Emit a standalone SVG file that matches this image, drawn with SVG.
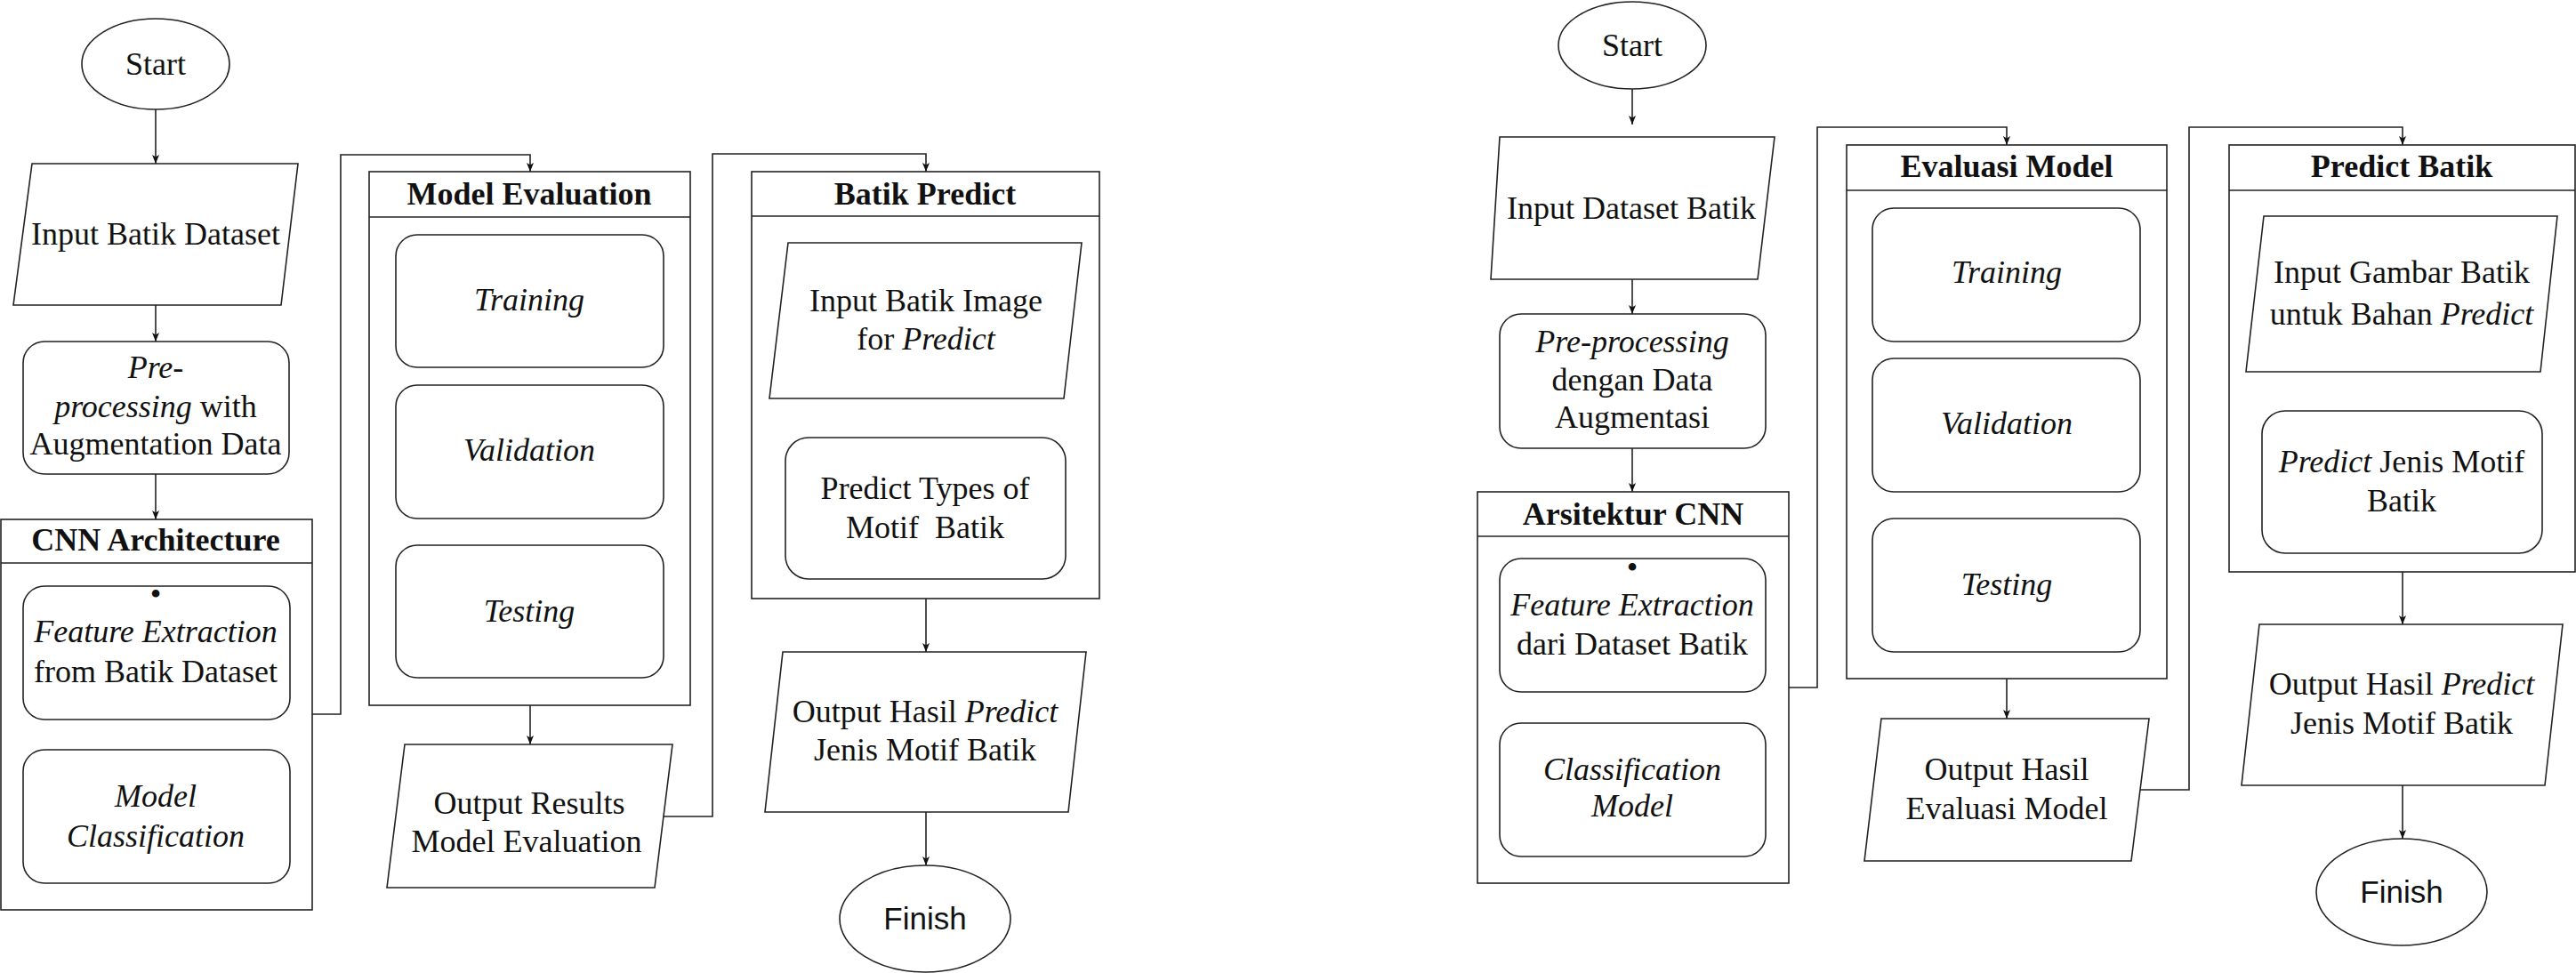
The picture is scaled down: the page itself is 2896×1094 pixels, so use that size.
<svg xmlns="http://www.w3.org/2000/svg" width="2896" height="1094" viewBox="0 0 2896 1094">
<style>
.s{fill:#fff;stroke:#222;stroke-width:1.6}
.c{fill:none;stroke:#222;stroke-width:1.6}
.t{font-family:"Liberation Serif","Times New Roman",serif;font-size:36px;fill:#111;text-anchor:middle}
.b{font-weight:bold}
.i{font-style:italic}
.f{font-family:"Liberation Sans",Arial,sans-serif;font-size:35px;fill:#111;text-anchor:middle}
</style>
<defs>
<marker id="ah" markerUnits="userSpaceOnUse" markerWidth="12" markerHeight="12" refX="10" refY="5" orient="auto">
<path d="M0,1 L10,5 L0,9 L2.5,5 Z" fill="#111"/>
</marker>
</defs>
<rect width="2896" height="1094" fill="#fff"/>

<g id="connectors">
<path class="c" marker-end="url(#ah)" d="M175,123 V184"/>
<path class="c" marker-end="url(#ah)" d="M175,343 V384"/>
<path class="c" marker-end="url(#ah)" d="M175,533 V584"/>
<path class="c" marker-end="url(#ah)" d="M175,809 V843"/>
<path class="c" marker-end="url(#ah)" d="M351,803 H383 V174 H596 V193"/>
<path class="c" marker-end="url(#ah)" d="M596,413 V433"/>
<path class="c" marker-end="url(#ah)" d="M596,583 V613"/>
<path class="c" marker-end="url(#ah)" d="M596,793 V837"/>
<path class="c" marker-end="url(#ah)" d="M746,918 H801 V173 H1041 V193"/>
<path class="c" marker-end="url(#ah)" d="M1041,448 V492"/>
<path class="c" marker-end="url(#ah)" d="M1041,673 V733"/>
<path class="c" marker-end="url(#ah)" d="M1041,913 V973"/>

<path class="c" marker-end="url(#ah)" d="M1835,100 V140"/>
<path class="c" marker-end="url(#ah)" d="M1835,314 V353"/>
<path class="c" marker-end="url(#ah)" d="M1835,504 V553"/>
<path class="c" marker-end="url(#ah)" d="M1835,778 V813"/>
<path class="c" marker-end="url(#ah)" d="M2011,773 H2043 V143 H2256 V163"/>
<path class="c" marker-end="url(#ah)" d="M2256,384 V403"/>
<path class="c" marker-end="url(#ah)" d="M2256,553 V583"/>
<path class="c" marker-end="url(#ah)" d="M2256,763 V808"/>
<path class="c" marker-end="url(#ah)" d="M2406,888 H2461 V143 H2701 V163"/>
<path class="c" marker-end="url(#ah)" d="M2701,418 V462"/>
<path class="c" marker-end="url(#ah)" d="M2701,643 V702"/>
<path class="c" marker-end="url(#ah)" d="M2701,883 V943"/>
</g>

<!-- LEFT (English) -->
<g id="start-en">
<ellipse class="s" cx="175" cy="72" rx="83" ry="51"/>
<text class="t" x="175" y="84" font-size="35">Start</text>
</g>
<g id="input-dataset-en">
<polygon class="s" points="36,184 335,184 316,343 15,343"/>
<text class="t" x="175" y="275">Input Batik Dataset</text>
</g>
<g id="preprocessing-en">
<rect class="s" x="26" y="384" width="299" height="149" rx="24"/>
<text class="t" x="175" y="425"><tspan class="i">Pre</tspan>-</text>
<text class="t" x="175" y="469"><tspan class="i">processing</tspan> with</text>
<text class="t" x="175" y="511">Augmentation Data</text>
</g>
<g id="cnn-en">
<rect class="s" x="1" y="584" width="350" height="439"/>
<line class="c" x1="1" y1="633" x2="351" y2="633"/>
<text class="t b" x="175" y="619">CNN Architecture</text>
</g>
<g id="feature-en">
<rect class="s" x="26" y="659" width="300" height="150" rx="24"/>
<text class="t" x="175" y="680" font-size="24">•</text>
<text class="t i" x="175" y="722">Feature Extraction</text>
<text class="t" x="175" y="767">from Batik Dataset</text>
</g>
<g id="classification-en">
<rect class="s" x="26" y="843" width="300" height="150" rx="24"/>
<text class="t i" x="175" y="907">Model</text>
<text class="t i" x="175" y="952">Classification</text>
</g>
<g id="evaluation-en">
<rect class="s" x="415" y="193" width="361" height="600"/>
<line class="c" x1="415" y1="244" x2="776" y2="244"/>
<text class="t b" x="595" y="230">Model Evaluation</text>
</g>
<g id="training-en">
<rect class="s" x="445" y="264" width="301" height="149" rx="24"/>
<text class="t i" x="595" y="349">Training</text>
</g>
<g id="validation-en">
<rect class="s" x="445" y="433" width="301" height="150" rx="24"/>
<text class="t i" x="595" y="518">Validation</text>
</g>
<g id="testing-en">
<rect class="s" x="445" y="613" width="301" height="149" rx="24"/>
<text class="t i" x="595" y="699">Testing</text>
</g>
<g id="output-eval-en">
<polygon class="s" points="455,837 756,837 736,998 435,998"/>
<text class="t" x="595" y="915">Output Results</text>
<text class="t" x="592" y="958">Model Evaluation</text>
</g>
<g id="predict-en">
<rect class="s" x="845" y="193" width="391" height="480"/>
<line class="c" x1="845" y1="243" x2="1236" y2="243"/>
<text class="t b" x="1040" y="230">Batik Predict</text>
</g>
<g id="input-image-en">
<polygon class="s" points="886,273 1216,273 1196,448 865,448"/>
<text class="t" x="1041" y="350">Input Batik Image</text>
<text class="t" x="1041" y="393">for <tspan class="i">Predict</tspan></text>
</g>
<g id="predict-types-en">
<rect class="s" x="883" y="492" width="315" height="159" rx="26"/>
<text class="t" x="1040" y="561">Predict Types of</text>
<text class="t" x="1040" y="605" xml:space="preserve">Motif  Batik</text>
</g>
<g id="output-predict-en">
<polygon class="s" points="880,733 1221,733 1201,913 860,913"/>
<text class="t" x="1040" y="812">Output Hasil <tspan class="i">Predict</tspan></text>
<text class="t" x="1040" y="855">Jenis Motif Batik</text>
</g>
<g id="finish-en">
<ellipse class="s" cx="1040" cy="1033" rx="96" ry="60"/>
<text class="f" x="1040" y="1045">Finish</text>
</g>

<!-- RIGHT (Indonesian) -->
<g id="start-id">
<ellipse class="s" cx="1835" cy="51" rx="83" ry="49"/>
<text class="t" x="1835" y="63" font-size="35">Start</text>
</g>
<g id="input-dataset-id">
<polygon class="s" points="1686,154 1995,154 1976,314 1676,314"/>
<text class="t" x="1834" y="246">Input Dataset Batik</text>
</g>
<g id="preprocessing-id">
<rect class="s" x="1686" y="353" width="299" height="151" rx="24"/>
<text class="t i" x="1835" y="396">Pre-processing</text>
<text class="t" x="1835" y="439">dengan Data</text>
<text class="t" x="1835" y="481">Augmentasi</text>
</g>
<g id="cnn-id">
<rect class="s" x="1661" y="553" width="350" height="440"/>
<line class="c" x1="1661" y1="603" x2="2011" y2="603"/>
<text class="t b" x="1836" y="590">Arsitektur CNN</text>
</g>
<g id="feature-id">
<rect class="s" x="1686" y="628" width="299" height="150" rx="24"/>
<text class="t" x="1835" y="650" font-size="24">•</text>
<text class="t i" x="1835" y="692">Feature Extraction</text>
<text class="t" x="1835" y="736">dari Dataset Batik</text>
</g>
<g id="classification-id">
<rect class="s" x="1686" y="813" width="299" height="150" rx="24"/>
<text class="t i" x="1835" y="877">Classification</text>
<text class="t i" x="1835" y="918">Model</text>
</g>
<g id="evaluation-id">
<rect class="s" x="2076" y="163" width="360" height="600"/>
<line class="c" x1="2076" y1="214" x2="2436" y2="214"/>
<text class="t b" x="2256" y="199">Evaluasi Model</text>
</g>
<g id="training-id">
<rect class="s" x="2105" y="234" width="301" height="150" rx="24"/>
<text class="t i" x="2256" y="318">Training</text>
</g>
<g id="validation-id">
<rect class="s" x="2105" y="403" width="301" height="150" rx="24"/>
<text class="t i" x="2256" y="488">Validation</text>
</g>
<g id="testing-id">
<rect class="s" x="2105" y="583" width="301" height="150" rx="24"/>
<text class="t i" x="2256" y="669">Testing</text>
</g>
<g id="output-eval-id">
<polygon class="s" points="2115,808 2416,808 2396,968 2096,968"/>
<text class="t" x="2256" y="877">Output Hasil</text>
<text class="t" x="2256" y="921">Evaluasi Model</text>
</g>
<g id="predict-id">
<rect class="s" x="2506" y="163" width="389" height="480"/>
<line class="c" x1="2506" y1="214" x2="2895" y2="214"/>
<text class="t b" x="2700" y="199">Predict Batik</text>
</g>
<g id="input-image-id">
<polygon class="s" points="2545,243 2875,243 2856,418 2525,418"/>
<text class="t" x="2700" y="318">Input Gambar Batik</text>
<text class="t" x="2700" y="365">untuk Bahan <tspan class="i">Predict</tspan></text>
</g>
<g id="predict-types-id">
<rect class="s" x="2543" y="462" width="315" height="160" rx="26"/>
<text class="t" x="2700" y="531"><tspan class="i">Predict</tspan> Jenis Motif</text>
<text class="t" x="2700" y="575">Batik</text>
</g>
<g id="output-predict-id">
<polygon class="s" points="2540,702 2881,702 2861,883 2520,883"/>
<text class="t" x="2700" y="781">Output Hasil <tspan class="i">Predict</tspan></text>
<text class="t" x="2700" y="825">Jenis Motif Batik</text>
</g>
<g id="finish-id">
<ellipse class="s" cx="2700" cy="1003" rx="96" ry="60"/>
<text class="f" x="2700" y="1015">Finish</text>
</g>
</svg>
